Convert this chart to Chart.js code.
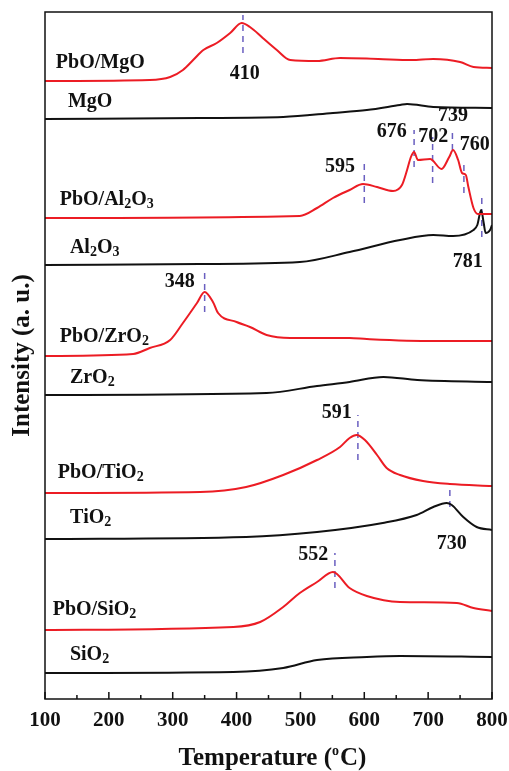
<!DOCTYPE html>
<html>
<head>
<meta charset="utf-8">
<script src="https://cdn.jsdelivr.net/npm/chart.js@4.4.1/dist/chart.umd.min.js"></script>
<style>
  html, body { margin: 0; padding: 0; background: #fff; }
  #wrap { width: 509px; height: 771px; position: relative; }
</style>
</head>
<body>
<div id="wrap"><canvas id="tpr"></canvas></div>
<script>
// temperature ticks
const xTicks = [100, 200, 300, 400, 500, 600, 700, 800];

// curves, offset intensity (a.u.)
const pboMgoT = [100, 264, 296, 316, 332, 348, 369, 390, 408, 421, 441, 463, 484, 526, 562, 622, 674, 708, 750, 771, 800];
const pboMgoI = [618, 619, 622, 629, 639, 649, 656, 666, 676, 672, 661, 649, 639, 638, 641, 640, 639, 640, 637, 632, 631];

const mgoT = [100, 343, 473, 551, 604, 656, 667, 708, 800];
const mgoI = [580, 581, 582, 586, 589, 594, 595, 592, 591];

const pboAlT = [100, 499, 526, 551, 577, 598, 620, 645, 659, 667, 673, 678, 684, 703, 721, 733, 739, 747, 753, 759, 763, 771, 778, 800];
const pboAlI = [481, 483, 491, 501, 509, 515, 512, 508, 514, 529, 542, 547, 539, 540, 530, 542, 549, 539, 526, 524, 512, 491, 485, 485];

const alT = [100, 343, 499, 577, 656, 708, 739, 771, 777, 783, 787, 790, 797, 800];
const alI = [434, 435, 437, 447, 459, 464, 463, 469, 474, 489, 476, 466, 469, 474];

const pboZrT = [100, 238, 264, 296, 316, 338, 350, 363, 371, 400, 421, 447, 484, 526, 577, 604, 708, 800];
const pboZrI = [343, 345, 351, 359, 376, 396, 407, 397, 386, 377, 372, 364, 361, 361, 361, 360, 358, 358];

const zrT = [100, 447, 526, 577, 630, 683, 800];
const zrI = [304, 306, 313, 317, 322, 319, 317];

const pboTiT = [100, 343, 415, 473, 526, 562, 577, 588, 601, 620, 635, 656, 692, 734, 800];
const pboTiI = [206, 207, 212, 224, 239, 252, 261, 264, 259, 244, 231, 224, 218, 215, 213];

const tiT = [100, 415, 526, 629, 682, 708, 729, 737, 755, 776, 800];
const tiI = [160, 162, 167, 176, 184, 192, 196, 194, 182, 172, 169];

const pboSiT = [100, 395, 437, 473, 499, 526, 551, 577, 604, 656, 745, 771, 800];
const pboSiI = [69, 72, 77, 92, 106, 117, 127, 111, 103, 97, 96, 91, 88];

const siT = [100, 395, 473, 526, 604, 656, 800];
const siI = [26, 27, 31, 39, 42, 43, 42];

// peak markers: label, temperature, intensity span of dashed line
const peakText = ["410", "595", "676", "702", "739", "760", "781", "348", "591", "730", "552"];
const peakT    = [410, 600, 678, 707, 738, 756, 784, 350, 590, 734, 554];
const peakHi   = [684, 537, 569, 562, 571, 536, 504, 426, 284, 216, 146];
const peakLo   = [646, 496, 532, 516, 549, 506, 462, 387, 239, 192, 111];

const seriesNames = ["PbO/MgO", "MgO", "PbO/Al2O3", "Al2O3", "PbO/ZrO2", "ZrO2", "PbO/TiO2", "TiO2", "PbO/SiO2", "SiO2"];

// where the texts sit, in data units
const peakLabelAt = [[413, 625], [562, 532], [643, 567], [708, 562], [739, 583], [773, 554], [762, 437], [311, 417], [557, 286], [737, 155], [520, 144]];
const nameAt = [[117, 636], [136, 597], [123, 499], [139, 451], [123, 362], [139, 321], [120, 226], [139, 181], [112, 89], [139, 44]];

const RED = "#ec1c24";
const BLACK = "#111111";
const DASH = "#6a5fc0";
const SERIF = "'Liberation Serif', 'Times New Roman', serif";

const pairs = (xs, ys) => xs.map((x, i) => ({ x, y: ys[i] }));

const curves = [
  [pboMgoT, pboMgoI, RED], [mgoT, mgoI, BLACK],
  [pboAlT, pboAlI, RED], [alT, alI, BLACK],
  [pboZrT, pboZrI, RED], [zrT, zrI, BLACK],
  [pboTiT, pboTiI, RED], [tiT, tiI, BLACK],
  [pboSiT, pboSiI, RED], [siT, siI, BLACK],
];

const datasets = curves.map(([xs, ys, c]) => ({
  data: pairs(xs, ys),
  borderColor: c,
  borderWidth: 2,
  pointRadius: 0,
  cubicInterpolationMode: "monotone",
}));

peakT.forEach((t, i) => {
  datasets.push({
    data: [{ x: t, y: peakLo[i] }, { x: t, y: peakHi[i] }],
    borderColor: DASH,
    borderWidth: 1.5,
    borderDash: [6, 5],
    pointRadius: 0,
  });
});

function drawName(ctx, text, x, y) {
  // digits after a letter become subscripts
  let cx = x;
  for (const ch of text) {
    const sub = /[0-9]/.test(ch);
    ctx.font = `bold ${sub ? 14 : 20}px ${SERIF}`;
    ctx.fillText(ch, cx, sub ? y + 4 : y);
    cx += ctx.measureText(ch).width;
  }
}

const decor = {
  id: "decor",
  afterDraw(chart) {
    const { ctx, chartArea: a, scales: { x, y } } = chart;
    ctx.save();
    ctx.strokeStyle = BLACK;
    ctx.lineWidth = 1.5;
    ctx.strokeRect(a.left, a.top, a.right - a.left, a.bottom - a.top);

    // inward ticks, minor every 50
    ctx.beginPath();
    for (let v = 100; v <= 800; v += 50) {
      const px = x.getPixelForValue(v);
      const len = v % 100 === 0 ? 7 : 4;
      ctx.moveTo(px, a.bottom);
      ctx.lineTo(px, a.bottom - len);
    }
    ctx.stroke();

    ctx.fillStyle = BLACK;
    ctx.textBaseline = "middle";
    ctx.textAlign = "left";
    seriesNames.forEach((n, i) => {
      drawName(ctx, n, x.getPixelForValue(nameAt[i][0]), y.getPixelForValue(nameAt[i][1]));
    });

    ctx.textAlign = "center";
    ctx.font = `bold 20px ${SERIF}`;
    peakText.forEach((t, i) => {
      ctx.fillText(t, x.getPixelForValue(peakLabelAt[i][0]), y.getPixelForValue(peakLabelAt[i][1]));
    });

    // x title with superscript o
    ctx.textAlign = "left";
    ctx.textBaseline = "alphabetic";
    const big = `bold 25px ${SERIF}`, small = `bold 14px ${SERIF}`;
    ctx.font = big;
    const p1 = "Temperature (", p3 = "C)";
    const w1 = ctx.measureText(p1).width, w3 = ctx.measureText(p3).width;
    ctx.font = small;
    const w2 = ctx.measureText("o").width + 1;
    const cx = (a.left + a.right) / 2 + 4;
    let sx = cx - (w1 + w2 + w3) / 2;
    const by = 765;
    ctx.font = big;
    ctx.fillText(p1, sx, by);
    ctx.font = small;
    ctx.fillText("o", sx + w1, by - 10);
    ctx.font = big;
    ctx.fillText(p3, sx + w1 + w2, by);

    // y title
    ctx.translate(23, (a.top + a.bottom) / 2);
    ctx.rotate(-Math.PI / 2);
    ctx.textAlign = "center";
    ctx.textBaseline = "middle";
    ctx.font = `bold 25px ${SERIF}`;
    ctx.fillText("Intensity (a. u.)", 0, 0);
    ctx.restore();
  },
};

new Chart(document.getElementById("tpr"), {
  type: "line",
  data: { datasets },
  plugins: [decor],
  options: {
    responsive: true,
    maintainAspectRatio: false,
    animation: false,
    layout: { padding: { top: 12, right: 17, left: 0, bottom: 0 } },
    plugins: { legend: { display: false }, tooltip: { enabled: false } },
    scales: {
      x: {
        type: "linear",
        min: 100,
        max: 800,
        afterBuildTicks: (s) => { s.ticks = xTicks.map((v) => ({ value: v })); },
        afterFit: (s) => { s.height = 72; s.paddingLeft = 0; s.paddingRight = 0; },
        grid: { display: false, drawTicks: false },
        border: { display: false },
        ticks: {
          padding: 9,
          color: BLACK,
          font: { family: SERIF, weight: "bold", size: 21 },
        },
      },
      y: {
        type: "linear",
        min: 0,
        max: 687,
        afterFit: (s) => { s.width = 45; },
        grid: { display: false },
        border: { display: false },
        ticks: { display: false },
      },
    },
  },
});
</script>
</body>
</html>
